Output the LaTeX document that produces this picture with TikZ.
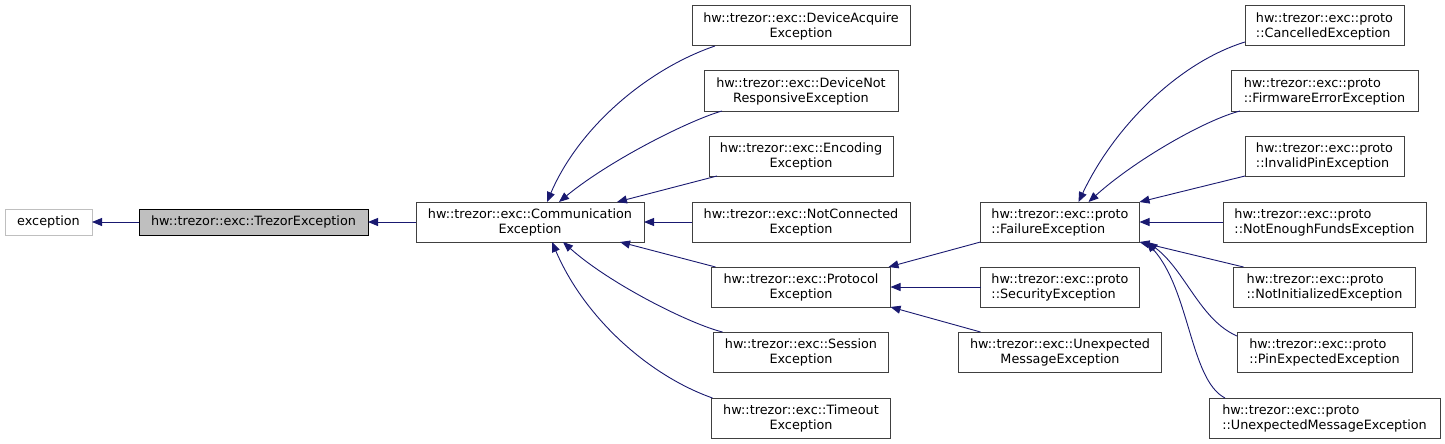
\documentclass[tikz,border=0pt]{standalone}
\usepackage{fontspec}
\setmainfont{DejaVu Sans}
\usetikzlibrary{arrows.meta}
\definecolor{edgeblue}{HTML}{191970}
\definecolor{boxline}{HTML}{404040}
\definecolor{grayfill}{HTML}{BFBFBF}
\tikzset{
  cls/.style={draw=boxline, fill=white, line width=1pt, inner sep=0pt, outer sep=0pt,
    minimum height=40pt, align=center, font=\fontsize{12.8}{15}\selectfont},
  clsl/.style={cls, align=left},
  edge/.style={draw=edgeblue, line width=0.9pt, -{Triangle[length=10pt,width=8pt]}}
}
\begin{document}
\begin{tikzpicture}[x=1pt,y=-1pt]
\useasboundingbox (0,0) rectangle (1445,444);
% nodes
\node[cls, draw=grayfill, minimum width=87pt, minimum height=26pt] (exception) at (48.5,222) {exception};
\node[cls, fill=grayfill, draw=black, minimum width=229pt, minimum height=26pt] (trezor) at (253.5,222) {hw::trezor::exc::TrezorException};
\node[cls, minimum width=228pt] (comm) at (530,222) {hw::trezor::exc::Communication\\Exception};
\node[cls, minimum width=218pt] (devacq) at (801,26) {hw::trezor::exc::DeviceAcquire\\Exception};
\node[cls, minimum width=194pt] (devnot) at (801,91) {hw::trezor::exc::DeviceNot\\ResponsiveException};
\node[cls, minimum width=184pt] (encoding) at (801,156) {hw::trezor::exc::Encoding\\Exception};
\node[cls, minimum width=218pt] (notconn) at (801,222) {hw::trezor::exc::NotConnected\\Exception};
\node[cls, minimum width=179pt] (protocol) at (801,287) {hw::trezor::exc::Protocol\\Exception};
\node[cls, minimum width=175pt] (session) at (801,352) {hw::trezor::exc::Session\\Exception};
\node[cls, minimum width=179pt] (timeout) at (801,418) {hw::trezor::exc::Timeout\\Exception};
\node[clsl, minimum width=159pt] (failure) at (1060,222) {hw::trezor::exc::proto\\::FailureException};
\node[clsl, minimum width=159pt] (security) at (1060,287) {hw::trezor::exc::proto\\::SecurityException};
\node[cls, minimum width=203pt] (unexpmsg) at (1060,352) {hw::trezor::exc::Unexpected\\MessageException};
\node[clsl, minimum width=159pt] (cancelled) at (1324.5,26) {hw::trezor::exc::proto\\::CancelledException};
\node[clsl, minimum width=187pt] (firmware) at (1324.5,91) {hw::trezor::exc::proto\\::FirmwareErrorException};
\node[clsl, minimum width=159pt] (invalidpin) at (1324.5,156) {hw::trezor::exc::proto\\::InvalidPinException};
\node[clsl, minimum width=203pt] (notenough) at (1324.5,222) {hw::trezor::exc::proto\\::NotEnoughFundsException};
\node[clsl, minimum width=182pt] (notinit) at (1324.5,287) {hw::trezor::exc::proto\\::NotInitializedException};
\node[clsl, minimum width=175pt] (pinexp) at (1324.5,352) {hw::trezor::exc::proto\\::PinExpectedException};
\node[clsl, minimum width=231pt] (protounexp) at (1324.5,418) {hw::trezor::exc::proto\\::UnexpectedMessageException};
% edges
\draw[edge] (trezor.west) -- (exception.east);
\draw[edge] (comm.west) -- (trezor.east);
\draw[edge] ([xshift=23pt]devacq.south west) .. controls (650,68) and (580,125) .. ([xshift=131pt]comm.north west);
\draw[edge] ([xshift=18pt]devnot.south west) .. controls (690,120) and (610,160) .. ([xshift=143pt]comm.north west);
\draw[edge] ([xshift=8pt]encoding.south west) -- ([xshift=201pt]comm.north west);
\draw[edge] (notconn.west) -- (comm.east);
\draw[edge] ([xshift=4pt]protocol.north west) -- ([xshift=204pt]comm.south west);
\draw[edge] ([xshift=9pt]session.north west) .. controls (690,324) and (610,284) .. ([xshift=147pt]comm.south west);
\draw[edge] ([xshift=1pt]timeout.north west) .. controls (650,376) and (585,319) .. ([xshift=136pt]comm.south west);
\draw[edge] (failure.south west) -- ([xshift=-2pt]protocol.north east);
\draw[edge] (security.west) -- (protocol.east);
\draw[edge] ([xshift=22pt]unexpmsg.north west) -- (protocol.south east);
\draw[edge] ([yshift=4pt]cancelled.south west) .. controls (1180,62) and (1115,125) .. ([xshift=98pt]failure.north west);
\draw[edge] ([xshift=9pt]firmware.south west) .. controls (1205,120) and (1135,160) .. ([xshift=108pt]failure.north west);
\draw[edge] (invalidpin.south west) -- (failure.north east);
\draw[edge] (notenough.west) -- (failure.east);
\draw[edge] ([xshift=10pt]notinit.north west) -- (failure.south east);
\draw[edge] ([yshift=-4pt]pinexp.north west) .. controls (1200,320) and (1185,270) .. ([xshift=8pt]failure.south east);
\draw[edge] ([xshift=16pt]protounexp.north west) .. controls (1190,380) and (1190,290) .. ([xshift=7pt]failure.south east);
\end{tikzpicture}
\end{document}
